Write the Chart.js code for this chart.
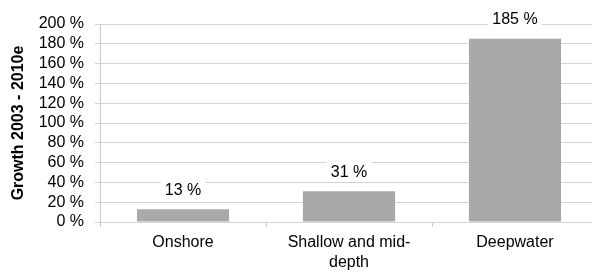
<!DOCTYPE html>
<html>
<head>
<meta charset="utf-8">
<script src="https://cdn.jsdelivr.net/npm/chart.js@4/dist/chart.umd.min.js"></script>
<style>
  html, body { margin: 0; padding: 0; background: #fff; overflow: hidden; }
  canvas { display: block; }
</style>
</head>
<body>
<canvas id="growthChart" width="598" height="275"></canvas>
<script>
const categories = ['Onshore', ['Shallow and mid-', 'depth'], 'Deepwater'];
const growth = [13, 31, 185];
const yTicks = [0, 20, 40, 60, 80, 100, 120, 140, 160, 180, 200];

const font = "'Liberation Sans', Arial, sans-serif";

// value boxes above each bar, white background hides the gridline behind
const valueLabels = {
  id: 'valueLabels',
  afterDatasetsDraw(chart) {
    const ctx = chart.ctx;
    const meta = chart.getDatasetMeta(0);
    ctx.save();
    ctx.font = '16px ' + font;
    ctx.textAlign = 'center';
    ctx.textBaseline = 'middle';
    meta.data.forEach((bar, i) => {
      const txt = growth[i] + ' %';
      const w = ctx.measureText(txt).width + 8;
      const y = bar.y - 20;
      ctx.fillStyle = '#fff';
      ctx.fillRect(bar.x - w / 2, y - 10, w, 20);
      ctx.fillStyle = '#000';
      ctx.fillText(txt, bar.x, y + 1);
    });
    ctx.restore();
  }
};

new Chart(document.getElementById('growthChart'), {
  type: 'bar',
  data: {
    labels: categories,
    datasets: [{
      data: growth,
      backgroundColor: '#a9a9a9',
      categoryPercentage: 1,
      barPercentage: 0.555
    }]
  },
  options: {
    responsive: false,
    animation: false,
    layout: { padding: { top: 24, right: 0, left: 0, bottom: 0 } },
    plugins: { legend: { display: false }, tooltip: { enabled: false } },
    scales: {
      x: {
        offset: true,
        grid: { offset: true, drawOnChartArea: false, tickLength: 5, color: '#c8c8c8' },
        border: { display: false },
        ticks: { color: '#000', padding: 6, font: { family: font, size: 16, lineHeight: 1.25 }, maxRotation: 0 },
        afterFit(scale) { scale.height = 53; }
      },
      y: {
        min: 0,
        max: 200,
        afterBuildTicks(scale) { scale.ticks = yTicks.map(v => ({ value: v })); },
        grid: { color: '#d4d4d4', tickLength: 5 },
        border: { display: true, color: '#c8c8c8' },
        ticks: {
          color: '#000',
          padding: 11,
          autoSkip: false,
          font: { family: font, size: 16, lineHeight: 1 },
          callback: v => v + ' %'
        },
        title: {
          display: true,
          text: 'Growth 2003 - 2010e',
          color: '#000',
          font: { family: font, size: 16, weight: 'bold' },
          padding: { top: 9, bottom: 0 }
        },
        afterFit(scale) { scale.width = 100; }
      }
    }
  },
  plugins: [valueLabels]
});
</script>
</body>
</html>
